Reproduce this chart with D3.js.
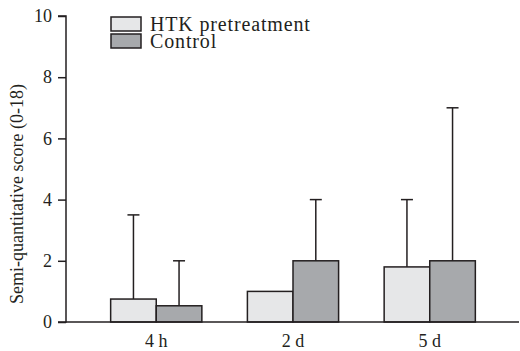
<!DOCTYPE html>
<html>
<head>
<meta charset="utf-8">
<script src="https://cdn.jsdelivr.net/npm/d3@7"></script>
<style>
  body { margin: 0; background: #fff; }
  svg { display: block; }
  text { font-family: "Times New Roman", "Liberation Serif", "DejaVu Serif", serif; }
</style>
</head>
<body>
<svg id="chart" width="520" height="351"></svg>
<script>
// data
const categories = ["4 h", "2 d", "5 d"];
const seriesNames = ["HTK pretreatment", "Control"];
const htkMean = [0.75, 1.0, 1.8];
const htkUpper = [3.5, null, 4.0];
const controlMean = [0.53, 2.0, 2.0];
const controlUpper = [2.0, 4.0, 7.0];
const yTicks = [0, 2, 4, 6, 8, 10];
const yTitle = "Semi-quantitative score (0-18)";

const colors = ["#e6e7e8", "#a7a9ac"];
const ink = "#231f20";
const serif = "'Times New Roman', 'Liberation Serif', 'DejaVu Serif', serif";

/* Set up */
const svg = d3.select("#chart");
const plotLeft = 66, plotRight = 519, plotTop = 16, plotBottom = 322;

const x = d3.scalePoint().domain(categories).range([plotLeft, 520]).padding(0.66);
const y = d3.scaleLinear().domain([0, 10]).range([plotBottom, plotTop]);
const barW = 45.6;

const series = [
  { name: seriesNames[0], mean: htkMean, upper: htkUpper, color: colors[0], off: -1 },
  { name: seriesNames[1], mean: controlMean, upper: controlUpper, color: colors[1], off: 0 },
];

// error bars first so bars cover the stems' base
series.forEach((s) => {
  const g = svg.append("g");
  categories.forEach((c, i) => {
    if (s.upper[i] == null) return;
    const cx = x(c) + s.off * barW + barW / 2;
    g.append("line")
      .attr("x1", cx).attr("x2", cx)
      .attr("y1", y(s.mean[i])).attr("y2", y(s.upper[i]))
      .attr("stroke", ink).attr("stroke-width", 1.5);
    g.append("line")
      .attr("x1", cx - 6).attr("x2", cx + 6)
      .attr("y1", y(s.upper[i])).attr("y2", y(s.upper[i]))
      .attr("stroke", ink).attr("stroke-width", 1.5);
  });
});

series.forEach((s) => {
  svg.append("g")
    .selectAll("rect")
    .data(categories)
    .join("rect")
    .attr("x", (c) => x(c) + s.off * barW)
    .attr("y", (c, i) => y(s.mean[i]))
    .attr("width", barW)
    .attr("height", (c, i) => y(0) - y(s.mean[i]))
    .attr("fill", s.color)
    .attr("stroke", ink)
    .attr("stroke-width", 1.5);
});

// y axis
const yAxis = svg.append("g")
  .attr("transform", `translate(${plotLeft},0)`)
  .call(d3.axisLeft(y).tickValues(yTicks).tickSize(8).tickPadding(6).tickFormat(d3.format("d")));
yAxis.attr("font-family", serif).attr("font-size", 18);
yAxis.select(".domain").attr("stroke", ink).attr("stroke-width", 1.5).attr("d", `M-8,${plotTop}H0V${plotBottom}H-8`);
yAxis.selectAll(".tick line").attr("stroke", ink).attr("stroke-width", 1.5);
yAxis.selectAll(".tick text").attr("fill", ink);

// x axis line
svg.append("line")
  .attr("x1", plotLeft).attr("x2", plotRight)
  .attr("y1", plotBottom).attr("y2", plotBottom)
  .attr("stroke", ink).attr("stroke-width", 1.5);

svg.append("g")
  .selectAll("text")
  .data(categories)
  .join("text")
  .attr("x", (c) => x(c))
  .attr("y", 347)
  .attr("text-anchor", "middle")
  .attr("fill", ink)
  .attr("font-family", serif)
  .attr("font-size", 18)
  .text((c) => c);

// y title
svg.append("text")
  .attr("transform", `translate(23,194) rotate(-90)`)
  .attr("text-anchor", "middle")
  .attr("fill", ink)
  .attr("font-family", serif)
  .attr("font-size", 18)
  .text(yTitle);

// legend
const legend = svg.append("g").attr("transform", "translate(111,17)");
series.forEach((s, i) => {
  legend.append("rect")
    .attr("x", 0).attr("y", i * 17)
    .attr("width", 30).attr("height", 14)
    .attr("fill", s.color).attr("stroke", ink).attr("stroke-width", 1.5);
  legend.append("text")
    .attr("x", 39).attr("y", i * 17 + 14)
    .attr("fill", ink)
    .attr("font-family", serif)
    .attr("font-size", 20)
    .attr("letter-spacing", 0.85)
    .text(s.name);
});
</script>
</body>
</html>
